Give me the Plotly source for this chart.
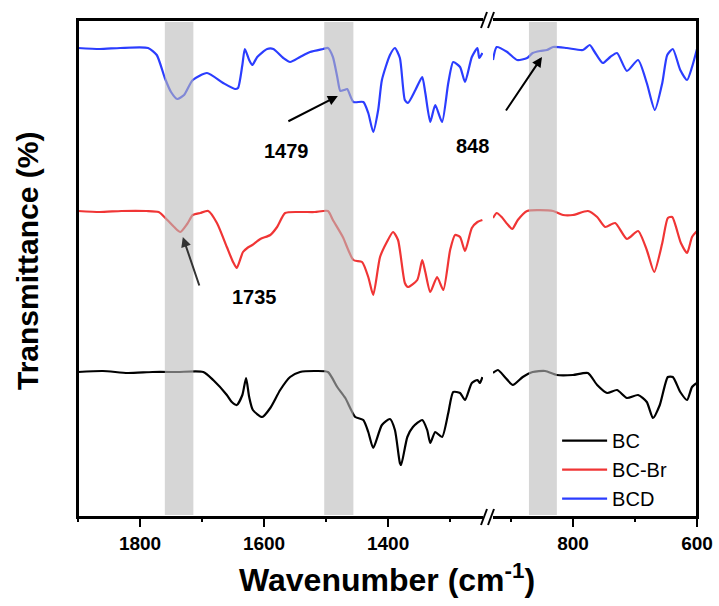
import plotly.graph_objects as go

# ---- data (wavenumber in cm-1, transmittance in arbitrary units, offset stacked) ----
bcd_w_left = [1900, 1865, 1832, 1787, 1773, 1760, 1750, 1740, 1729, 1715, 1692, 1666, 1647, 1642, 1635, 1631,
              1624, 1619, 1611, 1595, 1585, 1569, 1558, 1542, 1526, 1505, 1497, 1489, 1482, 1477, 1471, 1466,
              1456, 1440, 1432, 1424, 1416, 1410, 1397, 1389, 1381, 1373, 1368, 1356, 1345, 1340, 1332, 1324,
              1313, 1303, 1295, 1284, 1276, 1265, 1256, 1253, 1248]
bcd_t_left = [93.8, 93.6, 93.8, 93.8, 92.4, 87.8, 85.0, 83.6, 84.4, 87.4, 88.8, 86.8, 85.6, 85.8, 90.4, 93.6,
              91.4, 90.4, 92.0, 93.6, 93.6, 91.8, 91.0, 92.0, 93.0, 93.6, 93.8, 92.0, 88.0, 85.2, 85.4, 85.6,
              83.0, 83.0, 80.8, 77.0, 81.4, 87.4, 92.4, 93.8, 91.8, 83.4, 82.8, 85.4, 88.0, 84.8, 79.0, 82.4,
              79.0, 86.8, 91.0, 90.0, 87.0, 92.0, 93.8, 91.8, 92.8]
bcd_w_right = [929, 923, 906, 890, 874, 865, 853, 842, 832, 810, 784, 773, 765, 752, 740, 729, 713, 695, 681,
               668, 656, 648, 639, 627, 616, 608, 600]
bcd_t_right = [91.4, 94.0, 93.0, 91.4, 91.8, 92.8, 93.2, 93.4, 94.0, 93.8, 93.4, 94.4, 93.0, 90.8, 92.0, 92.8,
               89.2, 91.4, 86.8, 81.4, 86.8, 92.4, 93.6, 89.4, 87.4, 90.0, 93.6]

bcbr_w_left = [1900, 1865, 1830, 1790, 1770, 1756, 1745, 1735, 1724, 1715, 1703, 1690, 1676, 1660, 1650, 1644,
               1634, 1627, 1619, 1606, 1590, 1579, 1566, 1542, 1518, 1497, 1489, 1473, 1456, 1442, 1432, 1424,
               1413, 1402, 1392, 1384, 1373, 1368, 1353, 1345, 1340, 1332, 1321, 1311, 1300, 1292, 1284, 1276,
               1265, 1256, 1248]
bcbr_t_left = [61.2, 61.0, 61.2, 61.2, 61.0, 59.4, 58.0, 57.0, 58.6, 60.4, 60.8, 61.2, 58.8, 54.0, 51.0, 49.8,
               53.0, 53.8, 54.4, 55.6, 56.4, 58.0, 60.8, 61.0, 61.0, 61.2, 59.4, 56.0, 51.4, 51.0, 48.0, 44.4,
               52.0, 55.0, 57.0, 55.4, 46.8, 46.0, 47.4, 51.4, 49.0, 45.0, 48.0, 45.4, 53.4, 56.4, 56.0, 53.2,
               57.8, 59.0, 59.4]
bcbr_w_right = [929, 923, 915, 906, 898, 889, 874, 832, 816, 800, 776, 761, 748, 732, 713, 695, 681, 669, 656,
                647, 640, 626, 616, 608, 600]
bcbr_t_right = [59.8, 60.8, 60.0, 58.6, 57.6, 59.4, 61.2, 61.2, 60.4, 60.4, 61.2, 60.0, 58.0, 58.8, 55.6, 57.2,
                53.4, 49.0, 54.8, 59.8, 60.0, 54.8, 52.8, 56.0, 57.2]

bc_w_left = [1900, 1860, 1820, 1780, 1740, 1698, 1682, 1660, 1652, 1644, 1635, 1629, 1624, 1618, 1603, 1590,
             1574, 1558, 1542, 1518, 1497, 1482, 1469, 1453, 1440, 1432, 1424, 1410, 1397, 1389, 1381, 1379,
             1369, 1360, 1345, 1337, 1332, 1324, 1313, 1303, 1295, 1284, 1276, 1265, 1256, 1252, 1248]
bc_t_left = [29.0, 29.2, 28.8, 29.0, 29.0, 29.0, 27.4, 24.4, 23.0, 22.4, 24.4, 27.8, 24.0, 21.4, 20.0, 21.8,
             25.4, 28.0, 29.0, 29.2, 29.0, 26.0, 23.8, 20.0, 19.4, 17.0, 13.8, 18.4, 19.6, 17.4, 10.8, 10.4,
             16.0, 18.0, 19.4, 17.4, 14.8, 17.0, 16.0, 20.8, 25.0, 24.8, 23.4, 26.8, 27.4, 26.8, 28.0]
bc_w_right = [929, 921, 910, 897, 881, 865, 845, 826, 800, 776, 761, 745, 729, 713, 695, 681, 671, 660, 647,
              639, 627, 616, 608, 600]
bc_t_right = [28.8, 29.4, 28.0, 26.4, 28.0, 29.0, 29.2, 28.4, 28.4, 28.8, 26.4, 24.8, 25.4, 23.8, 24.4, 23.0,
              19.8, 22.4, 28.0, 28.0, 25.0, 23.4, 26.0, 26.8]

series_names = ["BC", "BC-Br", "BCD"]
series_colors = ["#000000", "#f03535", "#2b3dff"]

# highlighted bands (cm-1)
band_left = [(1760, 1714), (1503, 1456)]
band_right = [(871, 826)]

left_range = [1900, 1247]
right_range = [929, 600]
left_major = [1800, 1600, 1400]
left_minor = [1900, 1700, 1500, 1300]
right_major = [800, 600]
right_minor = [900, 700]

# ---- figure ----
fig = go.Figure()
data = [
    (bc_w_left, bc_t_left, bc_w_right, bc_t_right),
    (bcbr_w_left, bcbr_t_left, bcbr_w_right, bcbr_t_right),
    (bcd_w_left, bcd_t_left, bcd_w_right, bcd_t_right),
]
for name, color, (wl, tl, wr, tr) in zip(series_names, series_colors, data):
    fig.add_trace(go.Scatter(x=wl, y=tl, mode="lines", name=name, legendgroup=name,
                             line=dict(color=color, width=2.2, shape="spline", smoothing=0.6),
                             xaxis="x", yaxis="y", showlegend=True))
    fig.add_trace(go.Scatter(x=wr, y=tr, mode="lines", name=name, legendgroup=name,
                             line=dict(color=color, width=2.2, shape="spline", smoothing=0.6),
                             xaxis="x2", yaxis="y2", showlegend=False))
# empty helper traces so the minor-tick overlay axes are drawn
fig.add_trace(go.Scatter(x=[], y=[], xaxis="x3", yaxis="y", showlegend=False, hoverinfo="skip"))
fig.add_trace(go.Scatter(x=[], y=[], xaxis="x4", yaxis="y2", showlegend=False, hoverinfo="skip"))

shapes = []
for a, b in band_left:
    shapes.append(dict(type="rect", xref="x", yref="paper", x0=a, x1=b, y0=0.004, y1=0.996,
                       fillcolor="#bbbbbb", opacity=0.6, line=dict(width=0), layer="above"))
for a, b in band_right:
    shapes.append(dict(type="rect", xref="x2", yref="paper", x0=a, x1=b, y0=0.004, y1=0.996,
                       fillcolor="#bbbbbb", opacity=0.6, line=dict(width=0), layer="above"))

W, H = 619.0, 497.0
def px(xp):
    return (xp - 78) / W
def py(yp):
    return (517 - yp) / H

seg_left = (0, 405 / W)
seg_right = (415 / W, 1)

# frame lines (paper coords)
frame = dict(color="black", width=2)
for (a, b) in (seg_left, seg_right):
    for yy in (0, 1):
        shapes.append(dict(type="line", xref="paper", yref="paper", x0=a, x1=b, y0=yy, y1=yy, line=frame))
shapes.append(dict(type="line", xref="paper", yref="paper", x0=0, x1=0, y0=0, y1=1, line=frame))
shapes.append(dict(type="line", xref="paper", yref="paper", x0=1, x1=1, y0=0, y1=1, line=frame))

# axis-break marks "//"
for cx in (484, 491):
    for cy in (517, 20):
        shapes.append(dict(type="line", xref="paper", yref="paper",
                           x0=px(cx - 3), y0=py(cy + 8), x1=px(cx + 3), y1=py(cy - 8),
                           line=dict(color="black", width=2)))

font_fam = "Liberation Sans, Arial, sans-serif"
tickfont = dict(family=font_fam, size=19, color="black", weight="bold")

axis_common = dict(showline=True, linecolor="black", linewidth=2, mirror=True, automargin=False,
                   ticks="outside", ticklen=8, tickwidth=2, tickcolor="black",
                   showgrid=False, zeroline=False, tickfont=tickfont)
minor_axis = dict(showline=False, automargin=False, ticks="outside", ticklen=4, tickwidth=2,
                  tickcolor="black", showticklabels=False, showgrid=False, zeroline=False)

fig.update_layout(
    width=719, height=606,
    margin=dict(l=78, r=22, t=20, b=89, autoexpand=False),
    plot_bgcolor="white", paper_bgcolor="white",
    xaxis=dict(domain=list(seg_left), range=left_range, tickvals=left_major, **axis_common),
    xaxis2=dict(domain=list(seg_right), range=right_range, tickvals=right_major, anchor="y2", **axis_common),
    xaxis3=dict(domain=list(seg_left), range=left_range, tickvals=left_minor, overlaying="x",
                anchor="y", side="bottom", **minor_axis),
    xaxis4=dict(domain=list(seg_right), range=right_range, tickvals=right_minor, overlaying="x2",
                anchor="y2", side="bottom", **minor_axis),
    yaxis=dict(range=[0, 99.4], showline=True, linecolor="black", linewidth=2, ticks="", automargin=False,
               showticklabels=False, showgrid=False, zeroline=False, anchor="x"),
    yaxis2=dict(range=[0, 99.4], matches="y", showline=True, linecolor="black", linewidth=2, ticks="",
                automargin=False, showticklabels=False, showgrid=False, zeroline=False,
                anchor="x2", side="right"),
    shapes=shapes,
    showlegend=True,
    legend=dict(x=0.774, y=0.193, xanchor="left", yanchor="top", bgcolor="rgba(0,0,0,0)",
                font=dict(family=font_fam, size=20, color="black"), tracegroupgap=0, itemwidth=45),
    annotations=[
        dict(xref="paper", yref="paper", x=0.499, y=py(578), text="Wavenumber (cm<sup>-1</sup>)",
             showarrow=False, font=dict(family=font_fam, size=32, color="black", weight="bold"),
             xanchor="center", yanchor="middle"),
        dict(xref="paper", yref="paper", x=px(27), y=py(261), text="Transmittance (%)", textangle=-90,
             showarrow=False, font=dict(family=font_fam, size=30, color="black", weight="bold"),
             xanchor="center", yanchor="middle"),
        # arrows
        dict(xref="x", yref="y", x=1481, y=84.2, ax=-51, ay=26, text="", showarrow=True,
             arrowhead=2, arrowsize=1, arrowwidth=2, arrowcolor="black"),
        dict(xref="x2", yref="y2", x=850, y=92.0, ax=-37, ay=55, text="", showarrow=True,
             arrowhead=2, arrowsize=1, arrowwidth=2, arrowcolor="black"),
        dict(xref="x", yref="y", x=1731, y=56.0, ax=17, ay=50, text="", showarrow=True,
             arrowhead=2, arrowsize=1, arrowwidth=2, arrowcolor="#333333"),
        # labels
        dict(xref="paper", yref="paper", x=px(286), y=py(138), text="1479", showarrow=False,
             font=dict(family=font_fam, size=20, color="black", weight="bold")),
        dict(xref="paper", yref="paper", x=px(491), y=py(133), text="848", showarrow=False,
             font=dict(family=font_fam, size=20, color="black", weight="bold")),
        dict(xref="paper", yref="paper", x=px(230), y=py(297), text="1735", showarrow=False,
             font=dict(family=font_fam, size=20, color="black", weight="bold")),
    ],
)

fig.write_html("out.html", config={"displayModeBar": False},
               post_script="document.body.style.margin='0';document.body.style.overflow='hidden';")
